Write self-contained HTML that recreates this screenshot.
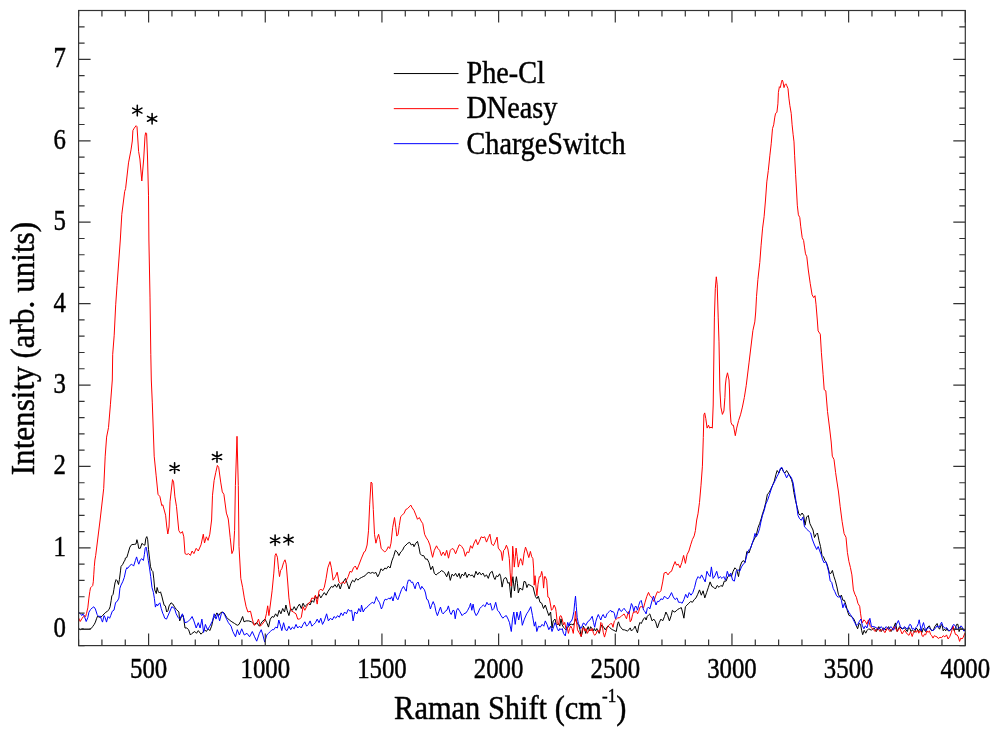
<!DOCTYPE html>
<html><head><meta charset="utf-8"><style>
html,body{margin:0;padding:0;background:#fff;}
svg{display:block;will-change:transform;}
text{font-family:"Liberation Serif",serif;fill:#000;stroke:#000;stroke-width:0.45px;}
.tl{font-size:28.5px;}
.lg{font-size:31.5px;}
.at{font-size:33.9px;}
.yt{font-size:33.5px;}
.sup{font-size:19px;}
</style></head><body>
<svg width="1000" height="735" viewBox="0 0 1000 735">
<rect width="1000" height="735" fill="#fff"/>
<g clip-path="url(#c)">
<polyline points="78.5,628.1 80.2,629.7 82.4,628.6 84.5,629.2 86.7,629.2 88.9,629.2 91.1,628.6 92.7,626.5 94.3,624.3 95.4,622.1 96.5,618.8 97.6,616.1 99.2,617.2 100.9,617.2 102.5,615.6 104.1,613.9 105.8,612.3 107.4,611.2 109.0,609.6 110.1,606.8 111.2,600.3 111.8,595.9 113.1,594.3 113.9,589.4 115.0,582.9 116.1,579.6 117.2,580.7 118.5,584.5 119.4,579.6 120.5,570.9 121.0,566.5 122.7,564.4 124.3,561.1 125.1,560.0 125.3,558.1 126.8,557.5 128.1,553.2 129.9,547.1 131.7,544.6 134.2,544.4 136.0,544.0 136.9,539.7 137.9,543.4 138.7,548.3 140.3,548.3 141.9,543.4 143.4,544.6 144.9,545.2 145.8,538.5 146.8,536.6 147.7,539.7 148.5,549.5 149.5,558.1 150.5,566.7 151.7,570.3 152.9,571.6 153.8,578.9 154.8,590.0 156.3,593.6 157.1,587.5 158.1,591.2 159.3,593.0 160.5,591.8 161.8,596.1 163.0,601.0 164.2,605.3 165.4,605.9 166.7,612.0 167.9,610.8 169.1,605.9 171.0,602.8 172.8,604.0 174.6,607.1 176.5,609.6 178.9,612.0 179.7,620.9 181.5,616.5 183.3,615.6 185.0,628.0 186.8,628.0 188.6,629.7 190.4,635.0 192.1,633.3 194.8,631.5 196.5,633.3 198.3,630.6 201.0,634.2 202.7,632.4 204.5,629.7 206.3,631.5 208.1,628.8 209.8,630.6 211.6,626.2 213.4,618.2 215.1,616.5 216.9,612.9 218.7,615.6 220.4,612.9 222.2,612.0 224.0,612.9 226.6,617.3 229.3,620.0 231.9,621.8 234.6,623.5 237.3,625.3 239.0,624.4 240.8,620.9 242.6,616.5 244.0,621.8 246.1,620.9 248.8,620.9 251.4,621.8 254.1,624.4 256.7,622.7 259.4,626.2 262.0,621.8 265.0,619.1 266.8,622.7 268.5,627.1 270.3,619.1 272.1,616.5 273.8,617.3 275.6,613.8 277.4,616.5 279.2,610.3 280.9,613.8 282.7,608.5 284.5,612.0 285.9,605.0 287.1,610.3 288.9,615.6 290.7,608.5 292.4,610.3 294.2,606.7 296.0,610.3 297.7,606.7 299.5,604.1 301.3,608.5 303.1,603.2 304.8,606.7 306.6,605.0 308.4,603.2 310.1,605.0 311.9,600.5 313.7,602.3 315.4,596.1 317.2,598.8 319.0,594.3 320.8,597.9 322.5,595.2 324.3,592.6 326.1,595.2 327.8,591.7 329.6,589.0 331.4,586.4 333.1,587.3 334.9,584.6 336.7,587.3 338.5,583.7 340.2,589.0 342.0,583.7 343.8,581.1 345.5,578.4 347.3,583.7 349.1,589.0 350.8,583.7 352.6,580.2 354.4,581.9 356.2,578.4 357.9,580.2 359.7,578.4 361.5,577.5 363.2,576.6 365.0,575.8 367.1,573.3 368.8,572.4 370.6,573.3 372.4,572.4 374.2,573.3 375.9,572.4 377.7,576.8 379.5,573.3 380.9,568.8 383.0,570.6 384.8,568.0 386.5,568.8 388.3,566.2 390.1,568.0 391.9,560.9 393.6,556.5 395.4,550.3 397.2,552.0 398.9,555.6 400.7,552.0 402.5,550.3 404.2,546.7 406.0,545.0 407.8,543.2 409.6,542.3 411.3,545.0 413.1,544.1 414.0,546.7 415.8,543.2 417.5,541.4 418.8,546.7 420.2,553.8 421.9,555.6 423.7,555.6 425.5,559.1 427.3,559.1 429.0,562.7 430.8,569.7 432.6,566.2 434.3,573.3 436.1,575.0 437.9,573.3 439.6,572.4 441.4,570.6 443.2,571.5 445.0,573.3 446.7,576.8 448.5,571.5 450.3,580.4 452.0,574.2 453.8,575.9 455.6,573.3 457.3,576.8 459.1,573.3 460.3,578.4 462.1,574.0 463.8,575.8 465.3,572.2 467.0,577.5 468.8,574.0 470.6,575.8 472.3,574.9 474.1,577.5 475.9,571.3 477.7,574.9 479.4,572.2 481.2,574.9 483.0,573.1 484.7,576.6 486.5,574.9 488.3,578.4 490.0,573.1 492.2,571.3 493.9,577.5 495.0,579.5 496.4,575.7 497.9,576.7 499.6,573.8 500.7,576.7 502.1,587.1 503.6,579.5 505.0,577.6 506.4,578.1 507.9,583.3 509.3,582.4 510.2,591.0 511.0,597.6 512.0,583.3 512.9,576.7 513.9,586.2 514.5,591.0 515.5,582.4 516.4,576.7 517.4,583.3 518.3,592.9 519.8,588.1 521.2,589.0 522.6,590.0 524.0,581.4 525.5,581.9 526.9,587.6 528.3,584.3 529.3,584.8 530.2,585.2 531.7,586.2 533.1,587.1 534.0,591.0 535.5,596.7 536.9,598.6 538.3,596.2 540.0,602.3 541.7,603.2 543.5,608.5 545.3,605.0 547.0,610.3 548.8,615.6 550.6,612.0 552.0,628.0 553.2,620.9 555.0,619.1 556.1,623.6 557.3,624.9 558.6,623.6 559.8,626.1 561.0,618.8 562.2,624.9 563.5,627.3 564.7,628.5 565.9,629.8 567.1,628.5 568.4,626.7 569.6,624.9 571.4,624.3 573.3,624.9 574.5,622.4 575.5,618.8 576.3,621.2 577.5,623.6 578.8,625.5 580.0,629.8 581.2,636.5 582.1,633.4 583.3,626.1 584.5,628.5 585.7,633.4 587.0,629.8 588.2,626.7 589.4,631.0 590.6,626.7 591.9,628.5 593.1,631.0 594.3,628.5 595.5,631.0 596.8,628.5 598.0,631.0 599.2,633.4 600.4,628.5 601.7,624.9 602.9,626.1 604.1,627.9 605.3,629.8 606.5,627.9 607.8,626.1 609.0,626.7 610.2,627.9 611.4,629.2 612.7,629.8 613.9,630.4 615.1,631.0 616.3,631.6 617.6,623.6 618.5,621.8 619.8,626.1 621.2,627.9 622.8,629.8 624.4,629.8 625.9,630.4 627.4,631.0 628.9,629.8 630.2,627.9 631.4,631.0 632.6,629.8 633.8,628.5 635.1,626.1 636.3,629.8 637.5,632.8 638.7,626.1 640.0,622.4 641.2,623.6 642.4,621.2 643.6,618.8 644.9,617.5 646.1,620.0 647.3,616.3 648.5,615.1 649.8,613.9 652.1,620.9 653.8,619.1 655.6,621.8 657.4,628.0 659.2,622.7 660.9,619.1 662.7,620.9 664.5,616.5 665.9,612.0 667.7,615.6 669.4,620.9 671.2,615.6 672.4,610.3 674.2,612.0 676.0,611.2 677.7,609.4 679.5,608.5 681.3,607.6 682.5,612.0 683.9,618.2 685.4,606.7 687.1,605.0 688.9,603.2 690.7,601.4 692.4,602.3 694.2,599.6 696.0,597.9 697.7,594.3 699.5,589.9 701.3,595.2 703.1,590.8 704.8,597.9 706.6,592.6 708.4,587.3 710.1,581.9 711.9,586.4 713.7,587.3 715.4,589.0 717.2,585.5 719.0,587.3 720.8,585.5 722.5,586.4 724.3,581.1 726.1,581.1 727.8,576.6 729.6,574.9 731.4,576.6 733.1,571.3 734.9,567.8 736.7,569.6 738.5,576.6 740.2,566.0 742.0,561.6 743.8,560.7 745.0,562.5 746.9,551.4 749.0,553.0 750.6,548.1 752.3,543.2 753.9,539.9 755.5,536.7 756.3,535.0 758.0,527.7 759.6,523.6 761.2,518.7 762.5,513.8 764.2,508.9 765.8,502.4 767.4,494.2 769.1,492.6 770.7,489.3 772.3,486.0 774.3,481.1 775.9,474.6 777.2,470.5 778.9,473.0 780.5,468.9 782.1,468.1 783.3,471.3 784.9,473.0 786.6,470.5 788.2,473.0 789.8,476.2 791.5,479.5 792.6,483.6 793.9,492.6 795.5,500.7 797.2,507.3 798.8,513.8 800.4,515.4 802.1,513.0 803.7,515.4 805.0,525.2 806.6,517.1 808.3,515.4 809.9,523.6 811.5,526.9 813.0,530.0 814.5,537.5 816.0,534.5 817.5,533.0 819.0,540.5 820.5,546.5 822.0,555.4 823.5,556.9 825.0,560.7 826.5,562.9 828.0,567.4 829.5,573.4 830.9,573.4 832.4,570.4 833.9,576.4 835.4,580.9 836.9,586.9 838.4,594.3 839.9,597.3 841.4,595.1 842.9,600.3 844.4,600.3 845.9,604.8 847.4,610.8 848.9,615.3 850.4,616.0 851.9,616.8 853.4,618.3 854.9,621.3 856.4,625.8 857.6,628.8 859.1,623.5 860.6,624.3 861.6,630.3 862.7,634.7 864.2,630.3 865.7,633.2 867.2,630.3 868.7,628.8 871.5,630.2 873.9,627.8 876.4,631.5 878.8,626.6 881.3,631.5 883.7,627.8 886.2,630.2 888.6,626.6 891.1,631.5 893.5,627.8 895.5,622.9 897.2,631.5 899.6,626.6 902.1,629.0 904.5,627.8 907.3,631.6 908.6,627.5 909.8,628.3 911.0,631.6 912.2,630.0 913.5,630.8 914.7,632.4 915.9,628.3 917.1,628.8 918.4,631.6 919.6,629.2 920.8,630.0 922.0,632.4 923.3,628.3 924.5,630.0 925.7,631.6 926.9,628.3 928.1,626.7 929.4,625.9 930.6,629.2 931.8,630.8 933.5,630.0 934.7,626.7 935.9,625.1 937.1,623.5 938.3,627.5 939.6,629.2 940.8,625.9 942.0,624.3 943.2,630.8 944.5,629.2 945.7,630.8 946.9,628.3 948.1,630.8 949.4,630.8 950.6,630.0 951.8,628.3 953.0,627.5 954.3,630.8 955.5,627.5 956.7,624.3 957.9,624.3 959.1,631.6 960.4,627.5 961.6,628.3 962.8,628.3 964.0,630.8 965.3,630.0" fill="none" stroke="#000" stroke-width="1.0" stroke-linejoin="round"/>
<polyline points="78.5,617.7 80.2,621.5 81.8,618.8 83.4,616.6 84.8,615.6 85.6,616.6 86.5,613.4 87.8,607.9 88.9,598.1 89.8,591.6 90.5,587.8 91.6,586.7 92.7,585.6 93.3,581.8 93.8,574.2 94.3,566.5 94.9,560.0 95.7,555.4 100.1,520.0 103.7,488.6 105.2,456.2 106.6,437.1 108.5,427.6 110.4,404.8 112.3,380.0 112.7,354.3 114.2,335.2 115.7,304.8 117.0,285.7 120.3,240.0 121.8,214.3 124.7,191.4 125.6,188.6 128.5,162.9 131.0,149.9 132.3,141.0 132.9,130.5 134.2,128.2 136.1,125.7 137.0,126.7 138.6,151.4 139.9,159.0 141.8,181.0 143.7,159.0 145.0,136.2 145.6,132.8 146.6,133.3 147.5,157.0 148.5,195.2 148.9,240.0 150.0,297.1 150.8,354.3 151.3,380.0 152.3,402.9 154.2,456.2 156.1,475.2 158.0,494.3 159.9,496.6 161.8,505.7 162.8,504.8 165.6,515.2 166.7,526.0 167.8,534.0 169.0,527.0 170.0,501.7 172.5,479.6 173.6,482.1 174.9,496.8 176.5,506.6 177.3,515.0 178.8,530.6 180.6,533.3 182.4,531.5 183.8,536.8 185.0,553.6 186.8,554.5 188.6,553.6 190.4,555.4 192.1,551.0 193.9,553.6 196.2,548.3 198.3,551.0 201.0,544.8 203.3,534.2 204.5,543.0 206.3,536.8 208.1,540.4 209.8,534.2 211.6,520.0 212.5,495.2 214.1,480.5 215.8,472.3 217.4,465.4 218.7,467.4 220.7,482.1 222.3,491.9 223.9,494.3 226.4,513.1 228.0,518.0 228.4,520.0 230.2,537.7 231.9,553.6 233.4,550.1 234.6,530.6 235.4,485.4 237.0,436.3 238.3,485.4 239.0,546.5 240.8,578.4 242.6,587.3 244.3,597.9 246.1,606.7 247.9,612.0 250.5,611.2 252.3,619.1 254.1,625.3 256.7,623.5 258.5,619.1 260.3,626.2 262.0,624.4 264.7,620.9 266.4,613.8 267.7,605.8 268.9,615.6 270.3,605.0 272.1,590.8 273.8,573.1 275.1,555.4 276.0,553.6 277.4,557.2 278.6,569.6 279.5,576.6 280.6,570.4 281.8,568.7 283.6,562.5 285.0,559.8 286.2,564.2 287.7,582.0 288.9,597.9 290.7,610.3 293.3,612.0 296.0,613.8 297.7,619.1 299.5,619.1 301.3,617.3 303.1,606.7 304.8,610.3 306.6,606.7 308.4,603.2 310.1,602.3 311.9,597.9 313.7,598.8 315.4,595.2 317.2,604.1 319.0,590.8 320.8,589.0 322.5,590.8 324.3,587.3 326.1,578.4 327.8,567.8 330.0,561.6 331.4,567.8 333.1,580.2 335.4,576.6 337.2,572.2 339.0,581.9 340.8,583.7 342.9,581.9 344.6,583.7 346.4,580.2 348.2,576.6 350.0,571.3 351.7,572.2 353.5,567.8 355.3,566.0 357.0,569.6 358.8,565.1 361.5,558.1 364.1,551.9 365.3,551.2 367.1,545.0 368.5,530.8 369.7,504.2 371.0,482.1 372.0,483.0 373.3,509.6 374.5,534.3 375.9,543.2 377.3,537.9 378.6,534.3 379.8,539.6 381.2,548.5 383.0,550.3 384.8,552.0 386.5,550.3 388.3,546.7 389.7,548.5 391.0,543.2 392.7,527.3 394.5,517.5 395.8,527.3 396.8,536.1 398.1,534.3 399.3,525.5 400.7,516.6 402.5,514.9 404.2,513.1 405.7,509.6 407.4,508.7 409.2,506.9 410.8,505.1 412.2,507.8 414.0,510.4 415.8,514.9 417.5,519.3 419.3,517.5 421.1,521.1 422.8,523.7 424.6,534.3 426.4,537.9 428.1,540.5 429.9,545.0 431.3,552.0 432.6,557.3 434.3,550.3 436.5,545.8 437.9,548.5 439.6,550.3 441.4,555.6 443.2,552.0 445.0,555.6 446.7,550.3 448.5,558.2 450.3,550.3 452.0,548.5 453.8,549.4 455.6,553.8 457.3,549.4 459.1,545.0 460.0,544.8 461.7,546.5 463.5,549.2 465.3,556.3 467.0,551.9 468.8,552.7 470.6,545.7 472.3,548.3 474.1,543.0 475.9,539.5 477.7,544.8 479.4,541.2 481.2,536.8 483.0,537.7 484.7,536.8 486.5,542.1 488.3,537.7 489.9,534.2 491.6,543.9 493.4,545.7 495.0,542.4 497.1,537.1 498.3,548.1 499.8,550.0 501.2,551.9 502.4,560.5 503.6,550.5 505.0,549.0 506.4,545.2 507.9,549.0 509.3,558.6 510.2,572.9 511.2,586.2 512.0,572.9 512.7,546.2 513.4,553.8 514.3,567.1 515.3,556.7 516.1,548.1 517.2,556.7 518.3,567.1 519.6,561.4 520.7,558.6 521.7,561.4 522.6,565.2 524.0,553.8 525.5,547.1 526.9,551.0 528.8,557.6 530.4,551.4 531.7,556.7 532.9,558.6 533.6,568.1 534.2,585.2 535.0,575.7 536.0,587.1 536.9,595.7 538.0,584.3 539.3,576.7 540.5,576.7 541.7,571.4 542.6,575.7 543.6,588.1 544.5,576.7 545.3,576.6 546.7,580.2 547.9,597.0 549.3,597.9 551.5,610.3 552.9,608.5 554.1,605.0 555.5,608.0 556.1,611.4 557.3,623.6 558.6,624.9 559.8,616.3 561.0,615.7 562.2,618.8 563.5,624.9 564.7,622.4 565.9,628.5 567.1,626.7 568.4,633.4 569.6,628.5 570.8,626.1 572.0,628.5 573.3,633.4 574.5,622.4 575.5,611.4 576.3,620.0 577.5,629.8 578.8,632.2 580.0,634.1 581.2,636.5 582.4,628.5 583.7,627.9 584.9,631.0 586.1,628.5 587.3,633.4 588.6,631.0 589.8,629.2 591.0,631.0 592.2,628.5 593.5,633.4 594.7,635.3 595.9,634.1 597.1,631.0 598.3,630.4 599.6,632.2 600.8,622.4 602.0,623.6 603.2,632.2 604.5,637.1 605.7,632.8 606.9,628.5 608.1,626.1 609.4,624.9 610.6,623.6 611.8,623.6 613.0,627.3 614.3,621.2 615.5,620.0 616.7,618.8 617.9,617.5 619.2,618.1 620.4,616.9 621.6,615.7 622.8,615.1 624.1,613.9 625.3,616.3 626.5,618.8 627.7,613.9 628.9,611.4 630.2,621.8 631.4,620.0 632.6,614.5 633.8,611.4 635.1,612.6 636.3,610.8 637.5,613.9 638.7,611.4 640.0,607.1 641.2,606.5 642.4,607.1 643.6,607.7 644.9,602.8 646.7,596.7 648.5,592.4 649.8,595.5 652.1,597.9 653.8,601.4 655.6,596.1 657.4,591.7 659.2,592.6 660.9,590.8 662.7,581.9 664.1,573.1 666.2,572.2 668.0,574.9 669.8,572.2 671.5,571.3 673.3,566.0 675.1,561.6 676.5,565.1 678.3,564.2 680.0,567.8 681.8,562.5 683.6,555.4 685.4,563.4 687.1,554.5 688.9,551.0 690.7,544.8 692.4,539.5 694.2,535.9 695.4,530.6 696.7,520.0 698.0,513.8 699.5,502.4 701.0,485.2 702.4,466.2 703.3,437.6 703.9,414.8 704.7,412.9 705.8,418.6 707.1,428.1 708.5,425.2 709.6,428.1 711.0,427.1 712.3,428.1 713.2,405.0 714.4,317.1 715.3,288.6 716.3,276.8 717.2,284.8 718.2,317.1 719.0,341.9 719.9,390.0 720.9,407.1 722.4,414.4 723.9,411.0 724.9,397.6 725.4,385.0 726.2,378.1 727.5,372.8 729.0,380.0 729.5,390.0 730.0,409.0 731.0,422.4 732.3,425.2 733.4,425.2 735.3,435.7 736.7,428.1 738.6,420.5 740.5,414.8 742.4,407.1 744.3,397.6 746.2,385.7 749.0,362.9 752.9,330.5 754.8,321.9 755.7,312.0 756.5,296.7 757.9,279.5 759.8,262.4 761.1,245.2 762.6,228.1 764.1,216.7 765.5,200.0 766.8,181.9 768.3,170.5 769.9,155.2 771.2,143.8 772.5,128.6 773.7,124.8 774.8,117.1 775.6,113.3 776.9,112.4 777.9,103.8 778.4,92.4 779.4,86.7 780.3,87.6 781.3,82.9 782.2,80.0 783.0,81.9 784.0,87.6 784.9,84.8 785.9,83.8 786.8,85.7 788.0,88.6 788.9,98.1 789.9,105.7 791.2,113.3 792.1,124.8 793.1,134.3 794.0,141.9 794.6,155.2 795.6,174.3 796.5,190.0 797.3,205.2 798.4,214.8 799.8,217.6 800.7,226.2 802.2,237.6 803.6,240.5 804.5,247.1 805.5,253.8 806.8,256.7 808.3,270.0 810.2,283.3 812.1,294.8 813.7,297.6 815.0,295.7 816.0,304.3 817.3,320.0 818.1,330.9 820.3,334.2 821.4,352.7 823.1,374.5 824.2,389.7 825.8,390.8 827.5,411.5 829.7,429.0 831.2,442.0 832.3,456.2 834.0,459.5 835.6,472.5 836.7,480.0 838.5,492.0 840.2,506.7 842.1,521.4 844.1,533.6 846.0,537.3 847.4,552.4 848.9,561.4 850.4,567.4 851.9,574.9 853.4,589.9 854.9,594.3 856.4,597.3 857.9,603.3 859.7,606.3 860.6,613.8 861.6,620.5 862.4,622.8 863.9,619.8 865.4,621.3 866.9,624.3 868.4,619.8 870.3,626.6 872.7,629.0 875.2,631.5 877.6,627.8 880.0,631.5 882.5,629.0 884.9,632.7 887.4,627.8 889.8,631.5 892.3,629.0 894.7,626.6 897.2,631.5 899.6,627.8 902.1,633.9 904.5,630.2 907.3,634.1 909.0,635.3 910.6,631.6 912.2,636.5 913.5,632.4 914.7,630.8 916.3,632.4 917.5,630.0 918.8,633.2 920.0,630.8 921.2,631.6 922.0,635.7 923.3,636.5 924.5,634.1 925.7,634.9 926.9,630.8 928.1,632.4 929.4,630.8 930.6,634.5 931.8,635.7 933.0,638.1 934.3,635.7 935.9,636.5 937.1,636.9 938.3,638.5 940.0,637.3 941.6,637.7 943.2,635.7 944.9,636.9 946.5,634.9 948.1,639.0 949.8,636.5 951.4,632.4 953.0,625.9 954.3,630.8 955.5,634.5 957.1,634.9 958.3,636.9 959.6,641.4 960.8,638.1 962.0,639.0 963.2,637.3 964.5,634.1 965.3,632.4" fill="none" stroke="#ff0000" stroke-width="1.0" stroke-linejoin="round"/>
<polyline points="78.5,612.3 80.2,613.4 81.8,615.6 82.9,613.9 84.5,616.6 86.2,621.5 87.8,617.7 88.9,612.3 90.5,609.6 92.2,607.9 93.8,606.8 95.4,609.0 97.1,614.5 98.7,616.6 100.3,616.1 101.4,619.4 102.5,622.1 104.1,615.6 105.2,617.7 106.5,622.1 108.0,616.6 109.6,618.3 110.7,615.6 112.3,611.2 114.0,610.1 115.6,602.5 117.2,601.4 118.9,598.1 119.9,588.3 121.0,585.1 122.7,581.8 124.3,577.4 125.9,569.8 127.0,567.6 127.2,568.5 128.1,567.9 129.9,565.4 131.7,564.2 133.6,566.1 135.4,560.5 136.6,556.9 137.9,561.8 138.8,564.2 140.3,559.9 141.9,558.7 143.4,560.5 144.4,554.4 145.2,548.3 146.1,547.1 147.1,552.0 148.3,560.5 149.5,567.9 150.7,576.5 152.0,587.5 153.4,592.4 154.4,598.5 155.4,607.1 156.6,604.0 157.5,605.9 158.7,604.0 159.9,602.8 161.2,608.3 162.7,613.2 163.6,615.0 164.7,618.2 166.5,619.1 169.2,612.9 171.8,606.7 174.5,608.5 176.2,613.8 178.0,617.3 179.7,619.1 182.4,613.8 185.0,622.7 187.7,621.8 190.4,619.1 192.1,616.5 193.9,620.9 196.2,628.0 198.3,622.7 200.1,628.0 201.9,619.1 203.6,632.4 205.4,624.4 207.5,629.7 209.8,626.2 212.5,620.9 214.2,613.8 216.0,619.1 217.8,613.8 219.6,620.9 221.3,613.8 223.1,612.0 224.9,615.6 226.6,619.1 228.4,622.7 231.1,626.2 232.8,631.5 235.5,636.8 237.3,629.7 239.4,635.0 241.7,628.8 244.3,635.0 247.0,633.3 249.6,636.8 252.3,631.5 254.6,636.8 256.7,641.2 259.4,633.3 261.2,629.7 262.9,635.0 264.7,642.1 266.8,635.0 268.5,633.3 270.3,631.5 272.1,629.7 273.8,629.7 275.6,627.1 277.4,628.0 278.8,620.0 280.6,626.2 281.8,630.6 283.6,622.7 285.4,629.7 287.1,630.6 288.9,626.2 290.7,629.7 292.4,627.1 294.2,628.8 296.0,624.4 297.7,628.0 299.5,626.2 301.3,628.0 303.1,624.4 304.8,621.8 306.6,626.2 308.4,624.4 310.1,620.9 311.9,626.2 313.7,624.4 315.4,622.7 317.2,619.1 319.0,622.7 320.8,618.2 322.5,624.4 324.3,620.9 326.6,613.8 328.4,620.9 330.5,618.2 332.3,620.0 334.0,616.5 335.8,618.2 337.6,615.6 339.3,617.3 341.1,612.9 342.9,615.6 344.6,612.0 346.4,613.8 348.2,609.4 350.0,611.2 351.7,610.3 353.1,620.9 354.9,612.0 357.0,613.8 358.8,608.5 360.6,612.0 361.5,605.0 363.2,612.0 365.0,608.5 366.7,607.7 368.6,605.3 370.4,604.1 372.2,602.2 374.1,603.5 375.3,600.4 376.3,596.7 377.7,599.8 379.6,602.8 381.4,609.0 382.6,606.5 383.9,601.6 385.1,599.2 386.9,599.8 388.8,597.9 390.0,599.2 391.6,596.7 393.0,601.0 394.9,592.4 396.5,598.0 397.9,599.8 399.8,594.3 401.6,589.4 403.5,586.3 404.7,588.8 406.3,591.2 407.1,584.5 408.3,580.2 410.2,580.2 411.4,582.6 412.6,582.0 413.9,585.7 415.1,588.8 416.3,583.9 418.1,582.0 419.4,586.3 420.6,589.4 421.8,586.3 423.0,588.2 424.3,589.4 425.5,593.0 426.7,599.2 427.9,599.8 429.2,604.1 430.4,609.0 431.6,605.3 433.2,601.6 434.7,605.3 435.9,611.4 437.4,615.7 438.9,611.4 440.5,607.1 442.0,612.6 443.2,613.9 445.1,611.4 446.9,610.2 448.4,605.9 450.0,612.6 451.2,614.5 453.0,610.2 454.2,610.8 455.2,618.8 456.7,610.2 457.9,608.3 459.8,611.4 462.1,615.6 463.8,613.8 466.0,612.9 467.7,610.3 469.5,606.7 470.6,603.2 471.8,610.3 473.1,604.1 474.5,612.0 476.2,615.6 478.0,612.9 479.8,608.5 481.5,606.7 483.3,605.0 485.1,606.7 486.9,602.3 488.6,605.0 490.4,603.2 492.2,610.3 493.9,608.5 495.7,602.3 497.5,610.3 499.2,612.0 501.0,615.6 502.8,618.2 504.6,616.5 506.3,615.6 508.1,619.1 509.5,622.7 511.3,631.5 512.5,619.1 513.8,612.0 515.2,624.4 516.9,612.0 518.7,620.0 520.5,611.2 522.3,625.3 524.4,619.1 526.7,613.8 528.5,611.2 530.8,606.7 532.5,615.6 534.3,626.2 535.5,621.8 536.8,631.5 538.5,626.2 540.3,627.1 542.1,624.4 543.8,626.2 545.3,620.9 547.0,624.4 548.8,629.7 550.6,626.2 552.0,631.5 553.8,626.2 555.0,622.7 556.1,624.9 557.3,628.5 558.6,631.0 559.8,628.5 561.0,629.8 562.2,628.5 563.5,633.4 565.3,635.9 566.5,628.5 567.7,622.4 569.0,626.1 570.2,621.8 571.4,621.2 572.6,618.1 573.9,611.4 574.7,602.8 575.5,596.1 576.3,606.5 577.2,617.5 578.4,623.6 579.6,626.1 580.8,628.5 582.1,626.1 583.3,623.0 584.5,623.6 585.7,625.5 587.0,623.0 588.2,621.2 589.4,620.6 590.6,618.8 592.2,616.3 593.5,622.4 594.7,627.3 595.9,621.2 597.1,617.5 598.3,614.5 599.6,617.5 600.8,620.0 602.0,616.3 603.2,614.5 604.5,617.5 605.7,617.5 606.9,613.9 608.1,612.6 609.4,611.4 610.6,610.2 611.8,612.0 613.0,611.4 614.3,613.2 615.5,618.8 616.7,616.3 617.9,611.4 619.2,608.3 620.4,610.8 621.6,611.4 622.8,609.6 624.1,608.3 625.3,610.2 626.5,611.4 627.7,613.2 628.9,613.9 630.2,609.0 631.4,603.5 632.6,605.9 633.8,611.4 635.1,606.5 636.3,606.5 637.5,610.2 638.7,605.3 640.0,601.6 641.2,600.4 642.4,605.3 643.6,610.2 644.9,611.4 646.1,613.9 647.3,608.3 648.5,607.1 649.8,609.0 652.1,600.5 653.5,596.1 654.7,600.5 656.0,605.0 657.4,601.4 659.2,601.4 660.9,598.8 662.7,599.6 664.5,596.1 666.2,597.9 668.0,598.8 669.8,596.1 671.5,592.6 673.3,597.0 675.1,599.6 676.9,597.9 678.6,602.3 680.4,602.3 682.2,603.2 683.9,599.6 685.7,594.3 687.5,597.9 689.2,592.6 691.0,595.2 692.8,592.6 694.6,587.3 696.3,580.2 698.1,576.6 699.9,578.4 701.6,574.9 703.4,578.4 705.2,581.9 706.9,571.3 708.7,574.9 710.1,576.6 711.4,566.9 713.1,578.4 714.9,575.8 716.7,571.3 718.5,578.4 720.2,576.6 722.0,578.4 723.8,576.6 725.5,580.2 727.3,571.3 729.1,576.6 730.8,573.1 732.6,580.2 734.4,581.1 736.2,571.3 737.9,569.6 739.7,571.3 741.5,566.9 743.2,564.2 745.0,562.5 747.4,553.0 749.0,549.7 750.6,548.1 752.3,543.2 753.9,538.3 755.0,533.4 756.3,536.7 758.0,533.4 759.6,528.5 760.9,522.0 762.5,515.4 764.2,510.5 765.8,504.0 767.4,500.7 769.1,495.8 770.7,490.9 772.3,486.0 774.0,482.8 775.6,479.5 777.2,476.2 778.9,473.0 780.5,468.1 781.8,467.3 783.3,471.3 784.9,473.8 786.6,477.9 788.2,474.6 789.8,475.4 791.5,477.9 793.1,482.8 794.7,492.6 796.4,504.0 798.0,515.4 799.6,518.7 801.3,520.3 802.9,517.1 804.5,526.9 806.2,528.5 807.8,530.1 809.4,531.8 810.7,533.0 812.2,539.0 814.5,545.0 816.7,549.5 818.2,546.5 819.7,550.9 821.2,554.7 822.7,559.9 824.2,562.9 825.7,561.4 827.2,565.9 828.7,571.9 830.2,580.9 831.7,582.4 833.2,588.4 834.7,591.3 836.6,595.8 838.4,597.3 839.9,595.8 841.4,600.3 842.9,607.8 844.4,603.3 845.9,607.8 847.4,609.3 848.9,612.3 850.4,614.5 851.9,616.8 853.4,619.8 854.9,622.8 856.4,625.8 857.9,624.3 859.4,621.3 860.9,619.0 862.4,625.8 863.9,628.8 865.4,625.8 866.9,628.0 868.4,622.8 869.9,618.3 871.5,626.6 873.9,626.6 876.4,627.8 878.8,629.0 881.3,626.6 883.7,630.2 886.2,626.6 888.6,629.0 891.1,626.6 893.5,630.2 895.9,625.4 898.4,620.5 900.4,626.6 902.8,629.0 904.5,626.6 907.3,629.2 908.6,626.7 909.8,624.3 911.0,625.1 912.2,629.2 913.5,628.3 914.7,630.0 915.9,627.5 917.1,626.3 918.4,623.5 919.2,619.8 920.0,624.3 921.2,630.8 922.4,625.9 923.5,622.6 924.5,626.7 925.7,630.8 926.9,629.2 928.1,627.5 929.4,628.3 930.6,629.2 931.8,630.0 933.0,630.8 934.3,629.2 935.5,628.3 936.7,625.9 937.9,626.7 939.2,627.5 940.4,624.3 941.6,622.2 942.8,625.9 944.1,627.5 945.3,628.3 946.5,627.5 947.7,629.2 949.0,630.8 950.2,630.0 951.4,629.2 952.6,625.9 953.8,624.3 955.1,625.9 956.3,627.5 957.5,630.0 958.7,628.3 960.0,626.7 961.2,625.9 962.4,627.5 963.6,630.8 964.9,630.8" fill="none" stroke="#0000ff" stroke-width="1.0" stroke-linejoin="round"/>
</g>
<clipPath id="c"><rect x="78.6" y="10.5" width="886.6999999999999" height="635.1"/></clipPath>
<path d="M78.60 645.6V639.60M78.60 10.5V16.50M101.93 645.6V639.60M101.93 10.5V16.50M125.27 645.6V639.60M125.27 10.5V16.50M148.60 645.6V633.60M148.60 10.5V22.50M171.94 645.6V639.60M171.94 10.5V16.50M195.27 645.6V639.60M195.27 10.5V16.50M218.61 645.6V639.60M218.61 10.5V16.50M241.94 645.6V639.60M241.94 10.5V16.50M265.27 645.6V633.60M265.27 10.5V22.50M288.61 645.6V639.60M288.61 10.5V16.50M311.94 645.6V639.60M311.94 10.5V16.50M335.28 645.6V639.60M335.28 10.5V16.50M358.61 645.6V639.60M358.61 10.5V16.50M381.94 645.6V633.60M381.94 10.5V22.50M405.28 645.6V639.60M405.28 10.5V16.50M428.61 645.6V639.60M428.61 10.5V16.50M451.95 645.6V639.60M451.95 10.5V16.50M475.28 645.6V639.60M475.28 10.5V16.50M498.62 645.6V633.60M498.62 10.5V22.50M521.95 645.6V639.60M521.95 10.5V16.50M545.28 645.6V639.60M545.28 10.5V16.50M568.62 645.6V639.60M568.62 10.5V16.50M591.95 645.6V639.60M591.95 10.5V16.50M615.29 645.6V633.60M615.29 10.5V22.50M638.62 645.6V639.60M638.62 10.5V16.50M661.96 645.6V639.60M661.96 10.5V16.50M685.29 645.6V639.60M685.29 10.5V16.50M708.62 645.6V639.60M708.62 10.5V16.50M731.96 645.6V633.60M731.96 10.5V22.50M755.29 645.6V639.60M755.29 10.5V16.50M778.63 645.6V639.60M778.63 10.5V16.50M801.96 645.6V639.60M801.96 10.5V16.50M825.29 645.6V639.60M825.29 10.5V16.50M848.63 645.6V633.60M848.63 10.5V22.50M871.96 645.6V639.60M871.96 10.5V16.50M895.30 645.6V639.60M895.30 10.5V16.50M918.63 645.6V639.60M918.63 10.5V16.50M941.97 645.6V639.60M941.97 10.5V16.50M965.30 645.6V633.60M965.30 10.5V22.50M78.6 645.60H84.60M965.3 645.60H959.30M78.6 629.32H90.60M965.3 629.32H953.30M78.6 613.03H84.60M965.3 613.03H959.30M78.6 596.75H84.60M965.3 596.75H959.30M78.6 580.46H84.60M965.3 580.46H959.30M78.6 564.18H84.60M965.3 564.18H959.30M78.6 547.89H90.60M965.3 547.89H953.30M78.6 531.61H84.60M965.3 531.61H959.30M78.6 515.32H84.60M965.3 515.32H959.30M78.6 499.04H84.60M965.3 499.04H959.30M78.6 482.75H84.60M965.3 482.75H959.30M78.6 466.47H90.60M965.3 466.47H953.30M78.6 450.18H84.60M965.3 450.18H959.30M78.6 433.90H84.60M965.3 433.90H959.30M78.6 417.62H84.60M965.3 417.62H959.30M78.6 401.33H84.60M965.3 401.33H959.30M78.6 385.05H90.60M965.3 385.05H953.30M78.6 368.76H84.60M965.3 368.76H959.30M78.6 352.48H84.60M965.3 352.48H959.30M78.6 336.19H84.60M965.3 336.19H959.30M78.6 319.91H84.60M965.3 319.91H959.30M78.6 303.62H90.60M965.3 303.62H953.30M78.6 287.34H84.60M965.3 287.34H959.30M78.6 271.05H84.60M965.3 271.05H959.30M78.6 254.77H84.60M965.3 254.77H959.30M78.6 238.48H84.60M965.3 238.48H959.30M78.6 222.20H90.60M965.3 222.20H953.30M78.6 205.92H84.60M965.3 205.92H959.30M78.6 189.63H84.60M965.3 189.63H959.30M78.6 173.35H84.60M965.3 173.35H959.30M78.6 157.06H84.60M965.3 157.06H959.30M78.6 140.78H90.60M965.3 140.78H953.30M78.6 124.49H84.60M965.3 124.49H959.30M78.6 108.21H84.60M965.3 108.21H959.30M78.6 91.92H84.60M965.3 91.92H959.30M78.6 75.64H84.60M965.3 75.64H959.30M78.6 59.35H90.60M965.3 59.35H953.30M78.6 43.07H84.60M965.3 43.07H959.30M78.6 26.78H84.60M965.3 26.78H959.30M78.6 10.50H84.60M965.3 10.50H959.30" stroke="#333" stroke-width="1.2" fill="none"/>
<rect x="78.6" y="10.5" width="886.70" height="635.10" stroke="#333" stroke-width="1.2" fill="none"/>
<text transform="translate(148.60,677.5) scale(0.87,1)" text-anchor="middle" class="tl">500</text><text transform="translate(265.27,677.5) scale(0.87,1)" text-anchor="middle" class="tl">1000</text><text transform="translate(381.94,677.5) scale(0.87,1)" text-anchor="middle" class="tl">1500</text><text transform="translate(498.62,677.5) scale(0.87,1)" text-anchor="middle" class="tl">2000</text><text transform="translate(615.29,677.5) scale(0.87,1)" text-anchor="middle" class="tl">2500</text><text transform="translate(731.96,677.5) scale(0.87,1)" text-anchor="middle" class="tl">3000</text><text transform="translate(848.63,677.5) scale(0.87,1)" text-anchor="middle" class="tl">3500</text><text transform="translate(965.30,677.5) scale(0.87,1)" text-anchor="middle" class="tl">4000</text>
<text transform="translate(65.8,637.22) scale(0.87,1)" text-anchor="end" class="tl">0</text><text transform="translate(65.8,555.79) scale(0.87,1)" text-anchor="end" class="tl">1</text><text transform="translate(65.8,474.37) scale(0.87,1)" text-anchor="end" class="tl">2</text><text transform="translate(65.8,392.95) scale(0.87,1)" text-anchor="end" class="tl">3</text><text transform="translate(65.8,311.52) scale(0.87,1)" text-anchor="end" class="tl">4</text><text transform="translate(65.8,230.10) scale(0.87,1)" text-anchor="end" class="tl">5</text><text transform="translate(65.8,148.68) scale(0.87,1)" text-anchor="end" class="tl">6</text><text transform="translate(65.8,67.25) scale(0.87,1)" text-anchor="end" class="tl">7</text>
<path d="M137.30 105.35L137.30 115.85M132.66 108.14L141.94 113.06M132.66 113.06L141.94 108.14" stroke="#000" stroke-width="1.55" stroke-linecap="round" fill="none"/><path d="M152.10 113.55L152.10 124.05M147.46 116.34L156.74 121.26M147.46 121.26L156.74 116.34" stroke="#000" stroke-width="1.55" stroke-linecap="round" fill="none"/><path d="M174.60 462.75L174.60 473.25M169.96 465.54L179.24 470.46M169.96 470.46L179.24 465.54" stroke="#000" stroke-width="1.55" stroke-linecap="round" fill="none"/><path d="M217.00 451.75L217.00 462.25M212.36 454.54L221.64 459.46M212.36 459.46L221.64 454.54" stroke="#000" stroke-width="1.55" stroke-linecap="round" fill="none"/><path d="M275.10 535.05L275.10 545.55M270.46 537.84L279.74 542.76M270.46 542.76L279.74 537.84" stroke="#000" stroke-width="1.55" stroke-linecap="round" fill="none"/><path d="M288.50 534.45L288.50 544.95M283.86 537.24L293.14 542.16M283.86 542.16L293.14 537.24" stroke="#000" stroke-width="1.55" stroke-linecap="round" fill="none"/>
<line x1="393.8" y1="73.55" x2="458.5" y2="73.55" stroke="#000" stroke-width="1.0"/>
<line x1="393.8" y1="108.65" x2="458.5" y2="108.65" stroke="#ff0000" stroke-width="1.0"/>
<line x1="393.8" y1="143.67" x2="458.5" y2="143.67" stroke="#0000ff" stroke-width="1.0"/>
<text transform="translate(466.5,83) scale(0.895,1)" class="lg">Phe-Cl</text>
<text transform="translate(466.5,118.2) scale(0.895,1)" class="lg">DNeasy</text>
<text transform="translate(466.5,153.9) scale(0.895,1)" class="lg">ChargeSwitch</text>
<text transform="translate(394.1,719.3) scale(0.898,1)" class="at">Raman Shift (cm<tspan dy="-17" class="sup">-1</tspan><tspan dy="17">)</tspan></text>
<text transform="translate(33.7,475.3) rotate(-90) scale(0.93,1)" class="yt">Intensity (arb. units)</text>
</svg>
</body></html>
